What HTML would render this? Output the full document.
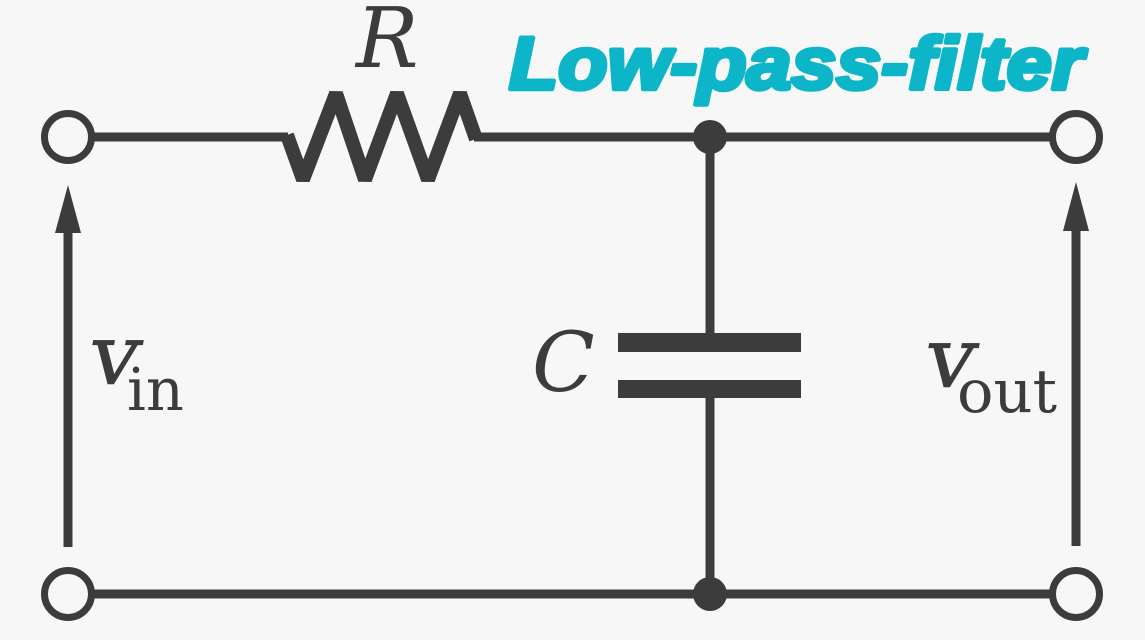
<!DOCTYPE html>
<html><head><meta charset="utf-8"><style>
html,body{margin:0;padding:0;background:#f7f7f7;width:1145px;height:640px;overflow:hidden}
svg{display:block}
text{font-family:"DejaVu Serif",serif;fill:#3c3c3c}
</style></head><body>
<svg width="1145" height="640" viewBox="0 0 1145 640" xmlns="http://www.w3.org/2000/svg">
<rect width="1145" height="640" fill="#f7f7f7"/>
<g fill="none" stroke="#3c3c3c" stroke-width="9">
<path d="M92 137H288"/>
<path d="M474 137H1052"/>
<path d="M92 594H1052"/>
<path d="M710 137V334"/>
<path d="M710 396V594"/>
<path d="M68 228V547"/>
<path d="M1076 228V546"/>
<polyline points="287,135 303,179.5 336,93.5 365,179.5 397,93.5 428,179.5 460,93.5 476,139" stroke-width="14" stroke-linejoin="bevel"/>
<circle cx="68" cy="137" r="23.5" stroke-width="7"/>
<circle cx="1076" cy="137" r="23.5" stroke-width="7"/>
<circle cx="68" cy="594" r="23.5" stroke-width="7"/>
<circle cx="1076" cy="594" r="23.5" stroke-width="7"/>
</g>
<g fill="#3c3c3c">
<circle cx="710" cy="137" r="17"/>
<circle cx="710" cy="594" r="17"/>
<rect x="618" y="333" width="183" height="19"/>
<rect x="618" y="380" width="183" height="18"/>
<polygon points="68,185 55,233 81,233"/>
<polygon points="1076,182 1063,231 1089,231"/>
</g>
<text x="356" y="67" font-size="83" font-style="italic">R</text>
<text x="532" y="391" font-size="82" font-style="italic">C</text>
<text transform="translate(86 384) skewX(-10)" font-size="84" textLength="50" lengthAdjust="spacingAndGlyphs" stroke="#3c3c3c" stroke-width="0.6">v</text>
<text x="127" y="410" font-size="59">in</text>
<text transform="translate(922 387) skewX(-10)" font-size="84" textLength="50" lengthAdjust="spacingAndGlyphs" stroke="#3c3c3c" stroke-width="0.6">v</text>
<text x="957" y="412" font-size="60" textLength="100" lengthAdjust="spacingAndGlyphs">out</text>
<text x="509" y="89" font-size="74" font-weight="bold" font-style="italic" textLength="574" lengthAdjust="spacingAndGlyphs" style="font-family:'Liberation Sans',sans-serif;fill:#0cb5c8;stroke:#0cb5c8;stroke-width:4.5;stroke-linejoin:round">Low-pass-filter</text>
</svg>
</body></html>
